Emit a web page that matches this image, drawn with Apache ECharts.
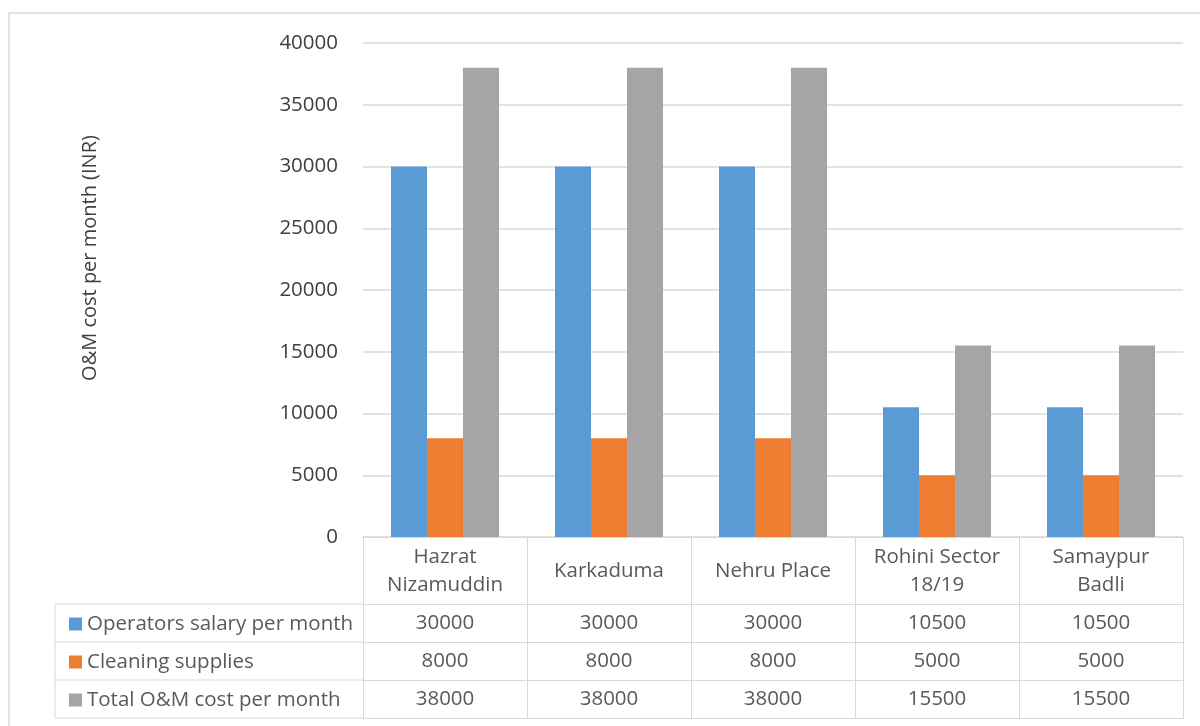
<!DOCTYPE html>
<html>
<head>
<meta charset="utf-8">
<script src="https://cdn.jsdelivr.net/npm/echarts@6/dist/echarts.min.js"></script>
<style>
html,body{margin:0;padding:0;background:#fff;}
#chart{width:1200px;height:726px;}
</style>
</head>
<body>
<div id="chart"></div>
<script>
var categories = ['Hazrat\nNizamuddin', 'Karkaduma', 'Nehru Place', 'Rohini Sector\n18/19', 'Samaypur\nBadli'];
var seriesNames = ['Operators salary per month', 'Cleaning supplies', 'Total O&M cost per month'];
var salary = [30000, 30000, 30000, 10500, 10500];
var cleaning = [8000, 8000, 8000, 5000, 5000];
var total = [38000, 38000, 38000, 15500, 15500];
var colors = ['#5B9BD5', '#ED7D31', '#A5A5A5'];
var yTicks = { min: 0, max: 40000, interval: 5000 };

var FONT = '"Open Sans", sans-serif';
var GRID_LINE = '#D9D9D9';
var TABLE_TEXT = '#595959';
var FS = 20.5;

function rowAxis(values, offset) {
  return {
    type: 'category',
    gridIndex: 0,
    position: 'bottom',
    offset: offset,
    data: categories,
    axisLine: { show: true, lineStyle: { color: GRID_LINE, width: 1 } },
    axisTick: { show: true, length: 38, lineStyle: { color: GRID_LINE, width: 1 } },
    axisLabel: {
      show: values !== null,
      margin: 19,
      verticalAlign: 'middle',
      fontFamily: FONT,
      fontSize: FS,
      color: TABLE_TEXT,
      formatter: function (v, i) { return values ? String(values[i]) : ''; }
    },
    splitLine: { show: false }
  };
}

var chart = echarts.init(document.getElementById('chart'), null, { renderer: 'canvas' });
var option = {
  backgroundColor: '#fff',
  animation: false,
  textStyle: { fontFamily: FONT },
  grid: { left: 363, right: 17, top: 43, bottom: 189, containLabel: false },
  legend: {
    orient: 'vertical',
    left: 64,
    top: 607,
    itemWidth: 13,
    itemHeight: 13,
    itemGap: 14,
    icon: 'rect',
    selectedMode: false,
    data: seriesNames,
    textStyle: { fontFamily: FONT, fontSize: FS, color: TABLE_TEXT, lineHeight: 24, padding: [0, 0, 0, 0] }
  },
  xAxis: [
    {
      type: 'category',
      data: categories,
      position: 'bottom',
      axisLine: { show: true, lineStyle: { color: GRID_LINE, width: 1 } },
      axisTick: { show: true, length: 67, lineStyle: { color: GRID_LINE, width: 1 } },
      axisLabel: {
        margin: 34,
        verticalAlign: 'middle',
        lineHeight: 28,
        fontFamily: FONT,
        fontSize: FS,
        color: TABLE_TEXT,
        interval: 0
      }
    },
    rowAxis(salary, 67),
    rowAxis(cleaning, 105),
    rowAxis(total, 143),
    (function () { var a = rowAxis(null, 181); a.axisTick.show = false; return a; })()
  ],
  yAxis: {
    type: 'value',
    min: yTicks.min,
    max: yTicks.max,
    interval: yTicks.interval,
    name: 'O&M cost per month (INR)',
    nameLocation: 'middle',
    nameRotate: 90,
    nameGap: 263,
    nameTextStyle: { fontFamily: FONT, fontSize: 20, color: '#404040', padding: [0, 0, 0, 64] },
    axisLine: { show: false },
    axisTick: { show: false },
    axisLabel: { margin: 25, fontFamily: FONT, fontSize: FS, color: '#404040', formatter: function (v) { return String(v); } },
    splitLine: { lineStyle: { color: GRID_LINE, width: 1.5 } }
  },
  graphic: [
    { type: 'rect', silent: true, shape: { x: 9, y: 13, width: 1250, height: 800 }, style: { fill: null, stroke: GRID_LINE, lineWidth: 1.5 } },
    { type: 'line', silent: true, shape: { x1: 55, y1: 604, x2: 363, y2: 604 }, style: { stroke: GRID_LINE, lineWidth: 1 } },
    { type: 'line', silent: true, shape: { x1: 55, y1: 642, x2: 363, y2: 642 }, style: { stroke: GRID_LINE, lineWidth: 1 } },
    { type: 'line', silent: true, shape: { x1: 55, y1: 680, x2: 363, y2: 680 }, style: { stroke: GRID_LINE, lineWidth: 1 } },
    { type: 'line', silent: true, shape: { x1: 55, y1: 718, x2: 363, y2: 718 }, style: { stroke: GRID_LINE, lineWidth: 1 } },
    { type: 'line', silent: true, shape: { x1: 55, y1: 604, x2: 55, y2: 718 }, style: { stroke: GRID_LINE, lineWidth: 1 } }
  ],
  series: [
    { name: seriesNames[0], type: 'bar', xAxisIndex: 0, data: salary, barWidth: 36, barGap: '0%', itemStyle: { color: colors[0] } },
    { name: seriesNames[1], type: 'bar', xAxisIndex: 0, data: cleaning, barWidth: 36, barGap: '0%', itemStyle: { color: colors[1] } },
    { name: seriesNames[2], type: 'bar', xAxisIndex: 0, data: total, barWidth: 36, barGap: '0%', itemStyle: { color: colors[2] } }
  ]
};
chart.setOption(option);
</script>
</body>
</html>
